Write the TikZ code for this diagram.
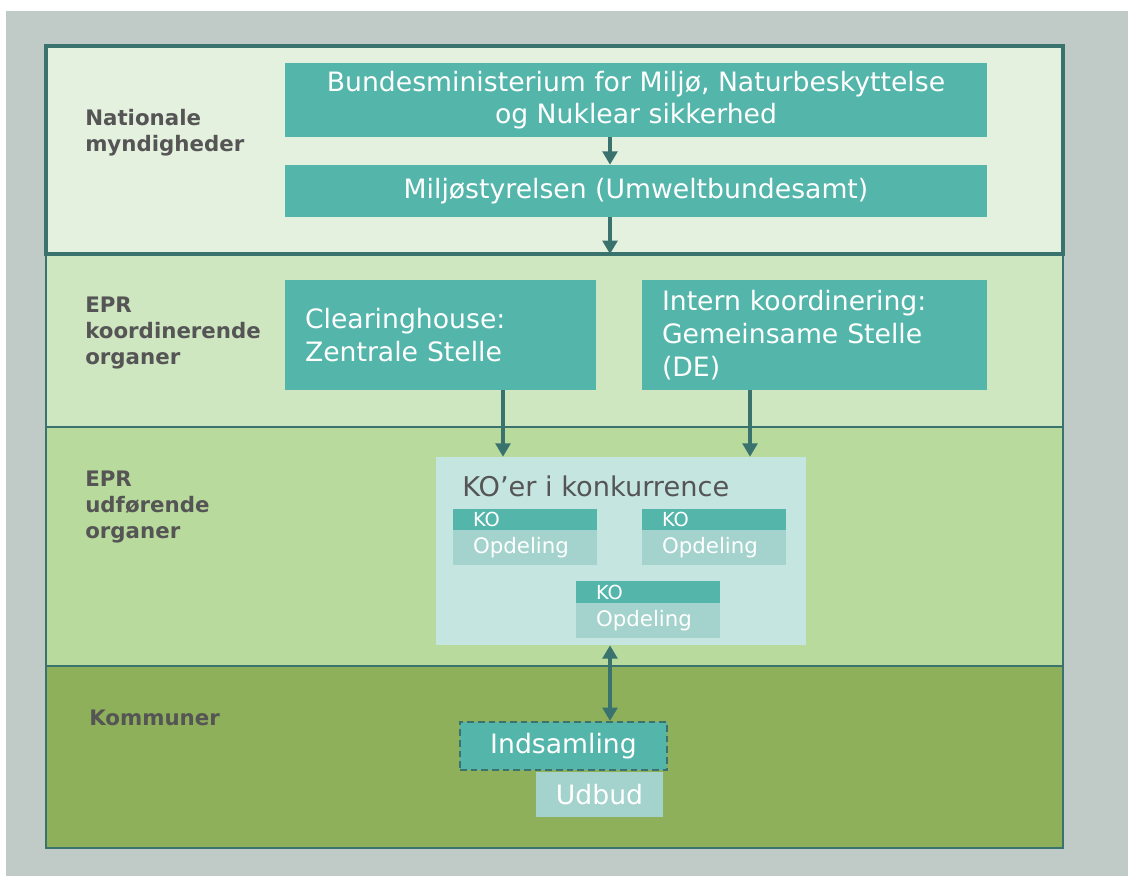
\documentclass[tikz,border=0pt]{standalone}
\usepackage{fontspec}
\setmainfont{DejaVu Sans}
\usetikzlibrary{arrows.meta}
\definecolor{bggrey}{HTML}{C0CBC8}
\definecolor{frameteal}{HTML}{3A726D}
\definecolor{bandone}{HTML}{E5F1DF}
\definecolor{bandtwo}{HTML}{CFE7C1}
\definecolor{bandthree}{HTML}{B8DB9D}
\definecolor{bandfour}{HTML}{8FB05A}
\definecolor{tealbox}{HTML}{54B5AA}
\definecolor{paleteal}{HTML}{A3D3CC}
\definecolor{koback}{HTML}{C5E5E1}
\definecolor{labelgrey}{HTML}{555555}
\begin{document}
\begin{tikzpicture}[x=0.75pt,y=-0.75pt]

	\tikzset{
	  bigbox/.style={fill=tealbox, text=white, inner sep=0pt, font=\fontsize{20}{24.5}\selectfont},
	  leftbox/.style={bigbox, align=left, inner xsep=15pt},
	  kohead/.style={fill=tealbox, text=white, inner sep=0pt, inner xsep=15pt, align=left,
	    minimum width=108pt, text width=78pt, font=\fontsize{14.5}{15}\selectfont},
	  kobody/.style={fill=paleteal, text=white, inner sep=0pt, inner xsep=15pt, align=left,
	    minimum width=108pt, text width=78pt, minimum height=26.25pt, font=\fontsize{16}{17}\selectfont},
	  levellabel/.style={anchor=north west, align=left, text=labelgrey, inner sep=0pt,
	    font=\fontsize{16}{19.5}\selectfont\bfseries},
	  tip/.style={-{Triangle[width=11pt,length=10pt]}},
	  arr/.style={draw=frameteal, line width=2.6pt, tip},
	}
	\useasboundingbox (0,0) rectangle (1128,876);
	\fill[white] (0,0) rectangle (1128,876);
	\fill[bggrey] (6,11) rectangle (1128,876);

	\fill[bandone] (46,46) rectangle (1063,254);
	\fill[bandtwo] (46,254) rectangle (1063,427);
	\fill[bandthree] (46,427) rectangle (1063,666);
	\fill[bandfour] (46,666) rectangle (1063,848);
	\draw[frameteal, line width=1pt] (46,254) rectangle (1063,427);
	\draw[frameteal, line width=1pt] (46,427) rectangle (1063,666);
	\draw[frameteal, line width=2pt] (46,666) rectangle (1063,848);
	\draw[frameteal, line width=2.4pt] (46,46) rectangle (1063,254);

	\node[levellabel] (lnat) at (85,109) {Nationale\\myndigheder};
	\node[levellabel] (lkoord) at (85,297) {EPR\\koordinerende\\organer};
	\node[levellabel] (ludf) at (85,471) {EPR\\udførende\\organer};
	\node[levellabel] (lkom) at (89,710) {Kommuner};

	\node[bigbox, align=center, minimum width=526.5pt, minimum height=55.5pt] (bmu) at (636,100)
	  {Bundesministerium for Miljø, Naturbeskyttelse\\og Nuklear sikkerhed};
	\node[bigbox, minimum width=526.5pt, minimum height=39pt] (uba) at (636,191)
	  {Miljøstyrelsen (Umweltbundesamt)};

	\node[leftbox, minimum width=233.25pt, text width=203.25pt, minimum height=82.5pt] (zs) at (440.5,335)
	  {Clearinghouse:\\Zentrale Stelle};
	\node[leftbox, minimum width=258.75pt, text width=228.75pt, minimum height=82.5pt] (gs) at (814.5,335)
	  {Intern koordinering:\\Gemeinsame Stelle\\(DE)};

	\node[fill=koback, minimum width=277.5pt, minimum height=141pt, inner sep=0pt] (kos) at (621,551) {};
	\node[anchor=west, text=labelgrey, inner sep=0pt, font=\fontsize{20.4}{22}\selectfont] (kotitle) at (462,486)
	  {KO’er i konkurrence};

	\node[kohead, minimum height=15.75pt] (koa) at (525,519.5) {KO};
	\node[kobody] (opa) at (525,547.5) {Opdeling};
	\node[kohead, minimum height=15.75pt] (kob) at (714,519.5) {KO};
	\node[kobody] (opb) at (714,547.5) {Opdeling};
	\node[kohead, minimum height=16.5pt] (koc) at (648,592) {KO};
	\node[kobody] (opc) at (648,620.5) {Opdeling};

	\node[bigbox, minimum width=95.25pt, minimum height=33.75pt, fill=paleteal] (udbud) at (599.5,794.5) {Udbud};
	\node[bigbox, minimum width=155.25pt, minimum height=36pt, draw=frameteal, line width=1.6pt,
	  dash pattern=on 5pt off 3pt] (inds) at (563.5,746) {Indsamling};

	\coordinate (xa) at (610,0);
	\coordinate (xb) at (503,0);
	\coordinate (xc) at (750,0);
	\coordinate (bandedge) at (610,254);
	\draw[arr] (bmu.south -| xa) -- (uba.north -| xa);
	\draw[arr] (uba.south -| xa) -- (bandedge);
	\draw[arr] (zs.south -| xb) -- (kos.north -| xb);
	\draw[arr] (gs.south -| xc) -- (kos.north -| xc);
	\draw[arr, {Triangle[width=11pt,length=10pt]}-{Triangle[width=11pt,length=10pt]}] (kos.south -| xa) -- (inds.north -| xa);

\end{tikzpicture}
\end{document}
